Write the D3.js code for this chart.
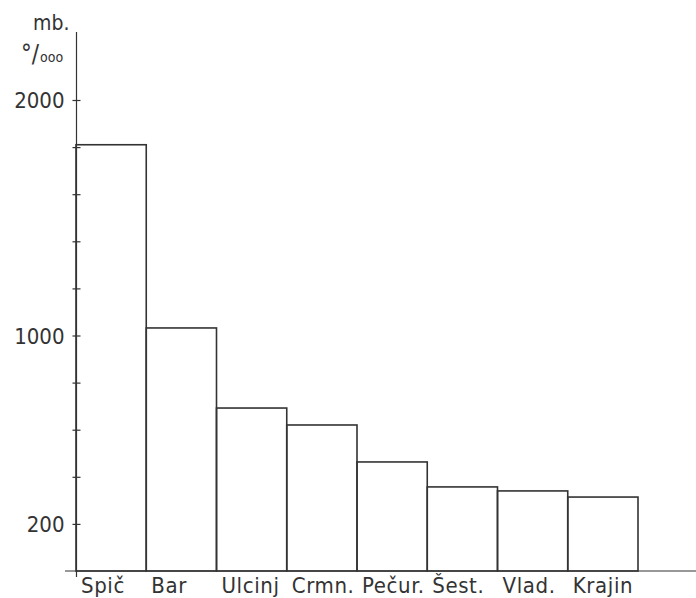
<!DOCTYPE html>
<html>
<head>
<meta charset="UTF-8">
<script src="https://d3js.org/d3.v7.min.js"></script>
<style>
  body { margin: 0; background: #fff; }
  svg text { font-family: "Liberation Sans Narrow", "DejaVu Sans Condensed", "Liberation Sans", sans-serif; fill: #333; }
</style>
</head>
<body>
<svg id="chart" width="696" height="598"></svg>
<script>
// naselja i vrijednosti (mb. na 10 000)
const places = ["Spič", "Bar", "Ulcinj", "Crmn.", "Pečur.", "Šest.", "Vlad.", "Krajin"];
const values = [1810, 1032, 692, 620, 463, 357, 340, 314];
const tickValues = [200, 400, 600, 800, 1000, 1200, 1400, 1600, 1800, 2000];
const labelledTicks = [200, 1000, 2000];

const svg = d3.select("#chart");
const ink = "#333";

const x = d3.scaleBand().domain(places).range([76, 638]).padding(0);
const y = d3.scaleLinear().domain([0, 2000]).range([571, 100]);

// bars
svg.selectAll("rect.bar")
  .data(places)
  .enter().append("rect")
  .attr("class", "bar")
  .attr("x", d => x(d))
  .attr("y", (d, i) => y(values[i]))
  .attr("width", x.bandwidth())
  .attr("height", (d, i) => y(0) - y(values[i]))
  .attr("fill", "none")
  .attr("stroke", ink)
  .attr("stroke-width", 1.6);

// y axis
const yAxis = svg.append("g")
  .attr("transform", "translate(76.5,0)")
  .call(d3.axisLeft(y)
    .tickValues(tickValues)
    .tickSize(4)
    .tickPadding(8)
    .tickFormat(d => labelledTicks.includes(d) ? d : ""));
yAxis.select(".domain").remove();
yAxis.selectAll(".tick line").attr("x1", 4).attr("stroke", ink).attr("stroke-width", 1.2);
yAxis.selectAll(".tick text").attr("font-size", 22).attr("fill", ink).attr("dy", "0.36em");

svg.append("line")
  .attr("x1", 76.5).attr("x2", 76.5)
  .attr("y1", 32).attr("y2", 577)
  .attr("stroke", ink).attr("stroke-width", 1.2);

// baseline
svg.append("line")
  .attr("x1", 65).attr("x2", 696)
  .attr("y1", y(0)).attr("y2", y(0))
  .attr("stroke", ink).attr("stroke-width", 1.2);

// category labels
svg.selectAll("text.cat")
  .data(places)
  .enter().append("text")
  .attr("class", "cat")
  .attr("x", d => x(d) + 5)
  .attr("y", 593)
  .attr("font-size", 22)
  .attr("letter-spacing", 0.6)
  .text(d => d);

// unit
svg.append("text")
  .attr("x", 33).attr("y", 30)
  .attr("font-size", 21)
  .text("mb.");
const unit = svg.append("text")
  .attr("x", 21).attr("y", 62)
  .attr("font-size", 24);
unit.append("tspan").text("°/");
unit.append("tspan").attr("font-size", 14).attr("dx", 1).text("ooo");
</script>
</body>
</html>
